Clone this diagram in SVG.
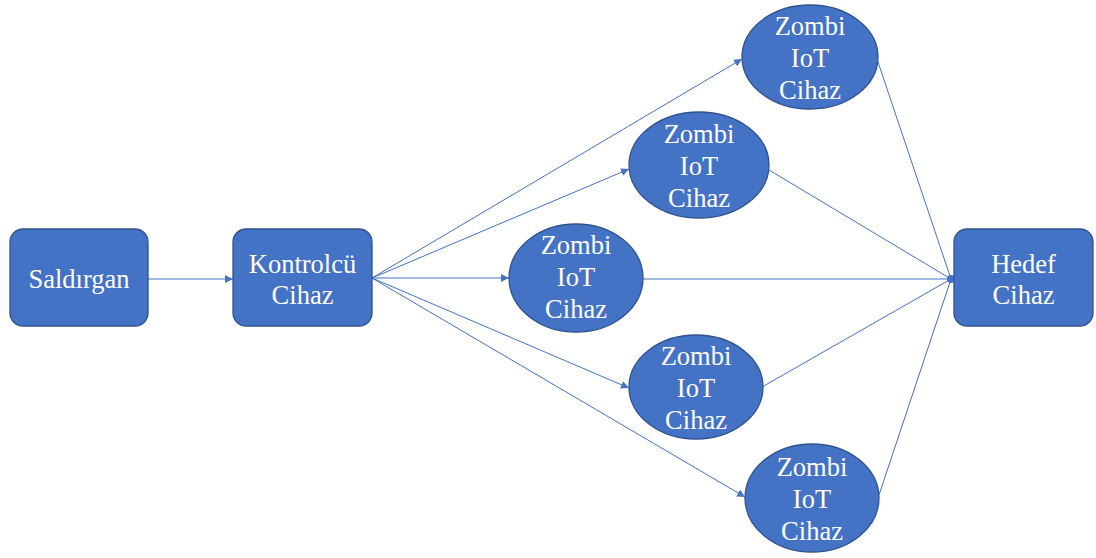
<svg xmlns="http://www.w3.org/2000/svg" width="1096" height="558" viewBox="0 0 1096 558">
<defs>
<style>
.n{fill:#4472C4;stroke:#2F528F;stroke-width:1.3}
.t{font-family:'Liberation Serif','DejaVu Serif',serif;font-size:26.5px;fill:#fff;text-anchor:middle}
.c{stroke:#4472C4;stroke-width:1;fill:none}
</style>
<marker id="a" viewBox="0 0 10 10" refX="10" refY="5" markerWidth="8" markerHeight="8" markerUnits="userSpaceOnUse" orient="auto"><path d="M0,0 L10,5 L0,10 z" fill="#4472C4"/></marker>
</defs>
<rect width="1096" height="558" fill="#fff"/>
<g id="connectors">
<line class="c" x1="148" y1="279" x2="233" y2="279" marker-end="url(#a)"/>
<line class="c" x1="372" y1="278" x2="742" y2="59" marker-end="url(#a)"/>
<line class="c" x1="372" y1="278" x2="629" y2="169" marker-end="url(#a)"/>
<line class="c" x1="372" y1="278" x2="509" y2="278" marker-end="url(#a)"/>
<line class="c" x1="372" y1="278" x2="629" y2="388" marker-end="url(#a)"/>
<line class="c" x1="372" y1="278" x2="745" y2="497" marker-end="url(#a)"/>
<line class="c" x1="878" y1="62" x2="951" y2="279"/>
<line class="c" x1="769" y1="170" x2="951" y2="279"/>
<line class="c" x1="643" y1="279" x2="951" y2="279"/>
<line class="c" x1="762" y1="387" x2="951" y2="279"/>
<line class="c" x1="879" y1="495" x2="951" y2="279"/>
<circle cx="951" cy="279" r="4" fill="#4472C4"/>
</g>
<g id="saldirgan"><rect class="n" x="10" y="229" width="138" height="97" rx="13"/><text class="t" x="79" y="288">Saldırgan</text></g>
<g id="kontrolcu"><rect class="n" x="233" y="229" width="139" height="97" rx="13"/><text class="t" x="302.5" y="273">Kontrolcü</text><text class="t" x="302.5" y="304">Cihaz</text></g>
<g id="hedef"><rect class="n" x="954" y="229" width="139" height="97" rx="13"/><text class="t" x="1023.5" y="273">Hedef</text><text class="t" x="1023.5" y="304">Cihaz</text></g>
<g id="zombi1"><ellipse class="n" cx="810" cy="57" rx="68" ry="52"/><text class="t" x="810" y="35">Zombi</text><text class="t" x="810" y="67">IoT</text><text class="t" x="810" y="99">Cihaz</text></g>
<g id="zombi2"><ellipse class="n" cx="699" cy="165" rx="70" ry="53"/><text class="t" x="699" y="143">Zombi</text><text class="t" x="699" y="175">IoT</text><text class="t" x="699" y="207">Cihaz</text></g>
<g id="zombi3"><ellipse class="n" cx="576" cy="278" rx="67" ry="54"/><text class="t" x="576" y="254">Zombi</text><text class="t" x="576" y="286">IoT</text><text class="t" x="576" y="318">Cihaz</text></g>
<g id="zombi4"><ellipse class="n" cx="696" cy="387" rx="67" ry="52"/><text class="t" x="696" y="365">Zombi</text><text class="t" x="696" y="397">IoT</text><text class="t" x="696" y="429">Cihaz</text></g>
<g id="zombi5"><ellipse class="n" cx="812" cy="498" rx="67" ry="54"/><text class="t" x="812" y="476">Zombi</text><text class="t" x="812" y="508">IoT</text><text class="t" x="812" y="540">Cihaz</text></g>
</svg>
